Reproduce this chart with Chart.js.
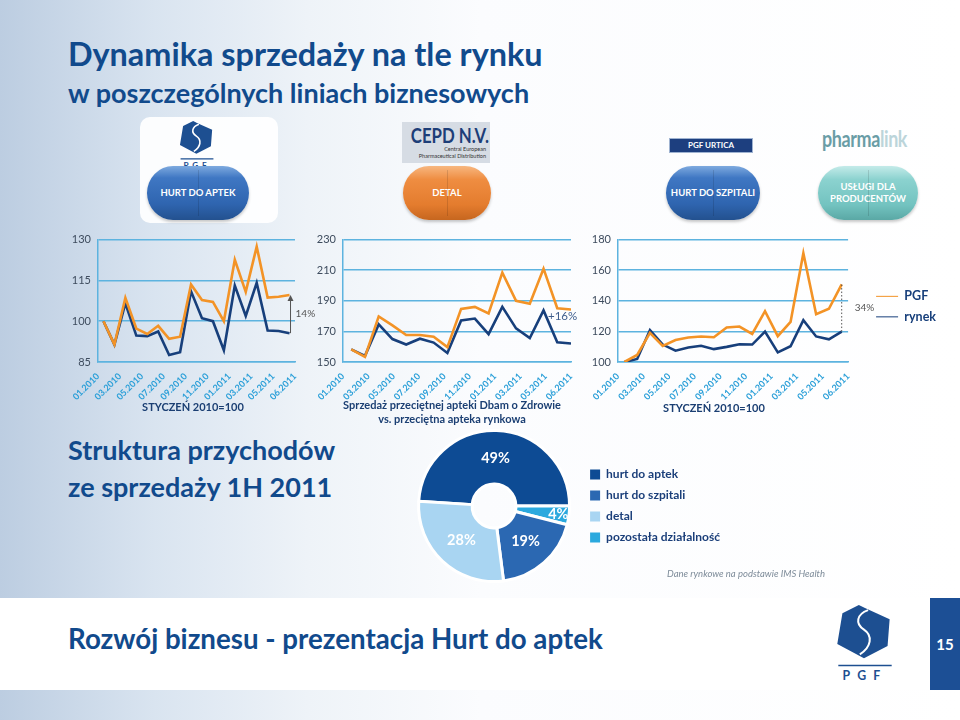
<!DOCTYPE html>
<html lang="pl">
<head>
<meta charset="utf-8">
<script src="https://cdn.jsdelivr.net/npm/chart.js@4.4.1/dist/chart.umd.min.js"></script>
<style>
html, body { margin: 0; padding: 0; }
body {
  width: 960px; height: 720px; position: relative; overflow: hidden;
  font-family: Lato, "Open Sans", sans-serif; color: #114a8c;
  background: linear-gradient(90deg, #bccde1 0%, #d9e4f0 16%, #eef3f8 32%, #fbfcfe 50%, #ffffff 100%);
}
.abs { position: absolute; }
.h1 { left: 68px; top: 38px; font-size: 32.4px; font-weight: 700; line-height: 1; white-space: nowrap; }
.h2 { left: 68px; top: 79px; font-size: 27px; font-weight: 700; line-height: 1; white-space: nowrap; }
.h3 { left: 68px; font-size: 27px; font-weight: 700; line-height: 1; white-space: nowrap; }
.card { left: 140px; top: 117px; width: 138px; height: 106px; border-radius: 10px; background: rgba(255,255,255,0.92); }
.pill {
  top: 166px; height: 54px; border-radius: 26px / 27px; color: #fff;
  font-size: 9.5px; font-weight: 700; display: flex; align-items: center; justify-content: center;
  text-align: center; line-height: 1.25; box-shadow: 0 2px 3px rgba(0,0,0,0.22);
}
.pill::after { content: ''; position: absolute; left: 50%; top: 4px; bottom: 4px; width: 1px; background: rgba(0,0,0,0.12); }
.blue { background: linear-gradient(180deg, #7eaadf 0%, #3f77c3 22%, #2f65b0 70%, #23518f 100%); }
.orange { background: linear-gradient(180deg, #f7b780 0%, #ef8d41 25%, #e47c2e 72%, #c6661f 100%); }
.teal { background: linear-gradient(180deg, #c4ebe9 0%, #8bd2cf 25%, #73c3c0 72%, #5aa8a5 100%); }
.cepd { left: 402px; top: 122px; width: 88px; height: 41px; background: #d6dce4; text-align: center; color: #1d3e78; overflow: hidden; white-space: nowrap; }
.cepd b { display: block; font-size: 21px; line-height: 22px; margin-top: 2px; transform: scaleX(0.8); transform-origin: center; }
.cepd i { display: block; font-style: normal; font-size: 5.5px; line-height: 7px; text-align: right; padding-right: 4px; color: #333; }
.urtica { left: 670px; top: 139px; width: 82px; height: 13px; background: #1d3f7f; color: #fff; font-size: 8px; font-weight: 700; text-align: center; line-height: 13px; box-shadow: 0 0 0 1px #9fb3d1; }
.pharma { left: 822px; top: 127px; font-size: 23px; font-weight: 700; letter-spacing: -0.5px; color: #6a9da6; line-height: 1; transform: scaleX(0.78); transform-origin: left top; }
.pharma span { color: #bcd5da; }
.cap { font-size: 11px; font-weight: 700; color: #1b3f73; text-align: center; white-space: nowrap; line-height: 14px; }
.footer { left: 0; top: 598px; width: 960px; height: 92px; background: #fff; }
.page { left: 930px; top: 598px; width: 30px; height: 92px; background: #1c4f95; color: #fff; font-size: 15px; font-weight: 700; display: flex; align-items: center; justify-content: center; }
.note { left: 667px; top: 568px; font-size: 9.5px; font-style: italic; color: #7d8b99; white-space: nowrap; }
canvas { position: absolute; }
</style>
</head>
<body>
<div class="abs h1">Dynamika sprzedaży na tle rynku</div>
<div class="abs h2">w poszczególnych liniach biznesowych</div>

<div class="abs card"></div>
<svg class="abs" style="left:178px;top:121px" width="38" height="48" viewBox="0 0 60 76">
  <polygon points="8,8 24,0 30,3 54,14 52,40 29,52 3,38" fill="#1d4f91"/>
  <path d="M33 5 C22 9 20 18 29 24 C38 30 36 41 25 48" stroke="#fff" stroke-width="2.5" fill="none"/>
  <line x1="4" y1="60" x2="56" y2="60" stroke="#1d4f91" stroke-width="2"/>
  <text x="30" y="74" text-anchor="middle" font-family="Lato" font-weight="700" font-size="13" fill="#1d4f91" letter-spacing="6">PGF</text>
</svg>
<div class="abs pill blue" style="left:147px;width:102px">HURT DO APTEK</div>

<div class="abs cepd"><b>CEPD N.V.</b><i>Central European</i><i>Pharmaceutical Distribution</i></div>
<div class="abs pill orange" style="left:403px;width:88px">DETAL</div>

<div class="abs urtica">PGF URTICA</div>
<div class="abs pill blue" style="left:666px;width:94px">HURT DO SZPITALI</div>

<div class="abs pharma">pharma<span>link</span></div>
<div class="abs pill teal" style="left:818px;width:100px">USŁUGI DLA<br>PRODUCENTÓW</div>

<canvas id="hurtChart" width="265" height="185" style="left:55px;top:226px"></canvas>
<canvas id="detalChart" width="280" height="185" style="left:300px;top:226px"></canvas>
<canvas id="szpitaleChart" width="375" height="185" style="left:575px;top:226px"></canvas>

<div class="abs cap" style="left:113px;top:400px;width:160px">STYCZEŃ 2010=100</div>
<div class="abs cap" style="left:332px;top:398px;width:240px">Sprzedaż przeciętnej apteki Dbam o Zdrowie<br>vs. przeciętna apteka rynkowa</div>
<div class="abs cap" style="left:634px;top:401px;width:160px">STYCZEŃ 2010=100</div>

<div class="abs h3" style="top:436px">Struktura przychodów</div>
<div class="abs h3" style="top:473px">ze sprzedaży 1H 2011</div>

<canvas id="structChart" width="351" height="175" style="left:400px;top:419px"></canvas>
<div class="abs note">Dane rynkowe na podstawie IMS Health</div>

<div class="abs footer"></div>
<div class="abs h3" style="top:625px;font-size:27.7px">Rozwój biznesu - prezentacja Hurt do aptek</div>
<svg class="abs" style="left:834px;top:605px" width="62" height="78" viewBox="0 0 60 76">
  <polygon points="8,8 24,0 30,3 54,14 52,40 29,52 3,38" fill="#1d4f91"/>
  <path d="M33 5 C22 9 20 18 29 24 C38 30 36 41 25 48" stroke="#fff" stroke-width="2" fill="none"/>
  <line x1="4" y1="59" x2="56" y2="59" stroke="#1d4f91" stroke-width="1.5"/>
  <text x="30" y="73" text-anchor="middle" font-family="Lato" font-weight="700" font-size="12" fill="#1d4f91" letter-spacing="7">PGF</text>
</svg>
<div class="abs page">15</div>

<script>
// osie X: etykiety co dwa miesiące
const tickLabels = ['01.2010', '03.2010', '05.2010', '07.2010', '09.2010', '11.2010', '01.2011', '03.2011', '05.2011', '06.2011'];

// hurt do aptek (styczeń 2010 = 100)
const hurtPGF   = [100, 91.4, 108.6, 97.3, 95.3, 98.3, 93.5, 94.3, 113.5, 107.8, 107.1, 100, 122.6, 110.8, 127.4, 108.7, 109, 109.6];
const hurtRynek = [100, 91.4, 106.6, 94.7, 94.5, 96.2, 87.6, 88.6, 111, 101.1, 100, 89.3, 113.1, 101.9, 114.1, 96.6, 96.4, 95.6];

// detal: apteka Dbam o Zdrowie vs przeciętna apteka rynkowa
const detalDbam  = [158.3, 153.4, 179.8, 173.9, 167.6, 167.6, 166.5, 159.7, 184.7, 186, 181.7, 208.4, 190, 188.1, 211, 185.1, 184.3];
const detalRynek = [158.3, 154, 174.6, 165, 161.4, 165.2, 162.7, 155.9, 177.1, 178.4, 168.2, 186, 172, 165.7, 183.7, 162.9, 162.1];

// hurt do szpitali (styczeń 2010 = 100)
const szpitalePGF   = [100, 104.6, 119, 110.5, 114.4, 116, 116.7, 116.2, 122.6, 123.2, 118.4, 133.2, 116.9, 126.2, 171.1, 131.2, 134.8, 150.7];
const szpitaleRynek = [100, 102, 120.9, 111.4, 107.4, 109.5, 110.6, 108.4, 109.9, 111.6, 111.4, 119.9, 106.3, 110.3, 127.3, 116.7, 114.8, 119.9];

// struktura przychodów 1H 2011 (kolejność zgodnie z ruchem wskazówek zegara)
const segmentLabels = ['hurt do aptek', 'pozostała działalność', 'hurt do szpitali', 'detal'];
const segmentValues = [49, 4, 19, 28];
const legendOrder = ['hurt do aptek', 'hurt do szpitali', 'detal', 'pozostała działalność'];

const ORANGE = '#f39326';
const NAVY = '#173f7b';
const GRID = '#5db3df';
const CYAN = '#2a9fd8';
const TICK = '#3e4c5e';
const FONT = 'Lato, "Open Sans", sans-serif';

Chart.defaults.font.family = FONT;

// napis z różnicą przy ostatnim punkcie
const gapNote = {
  id: 'gapNote',
  afterDatasetsDraw(chart, args, opts) {
    if (!opts || !opts.text) return;
    const top = chart.getDatasetMeta(0).data;
    const base = chart.getDatasetMeta(1).data;
    const a = top[top.length - 1];
    const b = base[base.length - 1];
    const ctx = chart.ctx;
    const x = a.x + (opts.lineDx || 0);
    ctx.save();
    ctx.strokeStyle = opts.color;
    ctx.fillStyle = opts.color;
    ctx.lineWidth = 1;
    if (opts.line === 'arrow') {
      ctx.beginPath(); ctx.moveTo(x, b.y); ctx.lineTo(x, a.y + 4); ctx.stroke();
      ctx.beginPath(); ctx.moveTo(x, a.y); ctx.lineTo(x - 3, a.y + 6); ctx.lineTo(x + 3, a.y + 6); ctx.closePath(); ctx.fill();
    } else if (opts.line === 'dotted') {
      ctx.setLineDash([1.5, 2]);
      ctx.beginPath(); ctx.moveTo(x, b.y); ctx.lineTo(x, a.y); ctx.stroke();
      ctx.setLineDash([]);
    }
    ctx.font = opts.font;
    ctx.textAlign = opts.align || 'left';
    ctx.textBaseline = 'middle';
    ctx.fillText(opts.text, x + (opts.dx || 0), (a.y + b.y) / 2 + (opts.dy || 0));
    ctx.restore();
  }
};

function lineChart(id, cfg) {
  const pts = (arr) => arr.map((v, i) => ({ x: i + cfg.shift, y: v }));
  return new Chart(document.getElementById(id), {
    type: 'line',
    data: {
      datasets: [
        { label: 'PGF', data: pts(cfg.top), borderColor: ORANGE, backgroundColor: ORANGE },
        { label: 'rynek', data: pts(cfg.base), borderColor: NAVY, backgroundColor: NAVY }
      ]
    },
    options: {
      responsive: false,
      animation: false,
      layout: { padding: cfg.padding },
      elements: { point: { radius: 0 }, line: { borderWidth: 2.6, tension: 0 } },
      plugins: {
        legend: cfg.legend || { display: false },
        tooltip: { enabled: false },
        gapNote: cfg.note
      },
      scales: {
        x: {
          type: 'linear', min: cfg.xMin, max: cfg.xMax,
          afterBuildTicks: (s) => {
            s.ticks = tickLabels.map((_, k) => ({ value: cfg.xMin + k * (cfg.xMax - cfg.xMin) / (tickLabels.length - 1) }));
          },
          afterFit: (s) => { s.height = 49; },
          ticks: {
            autoSkip: false, minRotation: 45, maxRotation: 45, padding: 1,
            color: CYAN, font: { size: 9, weight: 'bold' },
            callback: (v, i) => tickLabels[i]
          },
          grid: { display: false },
          border: { color: GRID, width: 1.5 }
        },
        y: {
          min: cfg.yMin, max: cfg.yMax,
          afterFit: (s) => { s.width = 43; },
          ticks: { stepSize: cfg.step, color: TICK, font: { size: 11 }, padding: 7 },
          grid: { color: GRID, lineWidth: 1.5, tickLength: 0 },
          border: { color: GRID, width: 1.5 }
        },
        ...(cfg.extraScales || {})
      }
    },
    plugins: [gapNote]
  });
}

lineChart('hurtChart', {
  top: hurtPGF, base: hurtRynek, shift: 0.5, xMin: 0, xMax: 18,
  yMin: 85, yMax: 130, step: 15,
  padding: { top: 10, right: 25, bottom: 0, left: 0 },
  note: { text: '14%', line: 'arrow', lineDx: 1, dx: 5, color: '#555', font: '10px ' + FONT }
});

lineChart('detalChart', {
  top: detalDbam, base: detalRynek, shift: 0.6, xMin: 0, xMax: 16.6,
  yMin: 150, yMax: 230, step: 20,
  padding: { top: 10, right: 9, bottom: 0, left: 0 },
  note: { text: '+16%', align: 'left', dx: -23, dy: -10, color: '#3d5c8c', font: '11.5px ' + FONT }
});

lineChart('szpitaleChart', {
  top: szpitalePGF, base: szpitaleRynek, shift: 0.5, xMin: 0, xMax: 18,
  yMin: 100, yMax: 180, step: 20,
  padding: { top: 10, right: 4, bottom: 0, left: 0 },
  note: { text: '34%', line: 'dotted', dx: 13, color: '#555', font: '10px ' + FONT },
  legend: {
    position: 'right', align: 'center', fullSize: false, maxWidth: 120,
    title: { display: true, text: '', font: { size: 8 }, padding: { top: 1, bottom: 1 } },
    labels: {
      usePointStyle: true, pointStyle: 'line', pointStyleWidth: 22, padding: 8,
      color: NAVY, font: { size: 12.5, weight: 'bold' }
    }
  },
  extraScales: {
    gap: {
      type: 'linear', position: 'right', display: true,
      afterFit: (s) => { s.width = 20; },
      ticks: { display: false }, grid: { display: false }, border: { display: false }
    }
  }
});

// etykiety procentowe na wycinkach
const sliceLabels = {
  id: 'sliceLabels',
  afterDatasetsDraw(chart) {
    const ctx = chart.ctx;
    ctx.save();
    ctx.fillStyle = '#fff';
    ctx.font = 'bold 14.5px ' + FONT;
    ctx.textAlign = 'center';
    ctx.textBaseline = 'middle';
    chart.getDatasetMeta(0).data.forEach((arc, i) => {
      const p = arc.getProps(['x', 'y', 'startAngle', 'endAngle', 'innerRadius', 'outerRadius']);
      const mid = (p.startAngle + p.endAngle) / 2;
      const r = p.innerRadius + (p.outerRadius - p.innerRadius) * (segmentValues[i] < 10 ? 0.8 : 0.48);
      ctx.fillText(segmentValues[i] + '%', p.x + Math.cos(mid) * r, p.y + Math.sin(mid) * r);
    });
    ctx.restore();
  }
};

new Chart(document.getElementById('structChart'), {
  type: 'doughnut',
  data: {
    labels: segmentLabels,
    datasets: [{
      data: segmentValues,
      backgroundColor: ['#0d4b94', '#2ba9de', '#2b68b2', '#a9d5f2'],
      borderColor: '#ffffff',
      borderWidth: 3
    }]
  },
  options: {
    responsive: false,
    animation: false,
    rotation: -86.4,
    cutout: '29%',
    layout: { padding: { top: 10, bottom: 11, left: 7, right: 21 } },
    plugins: {
      tooltip: { enabled: false },
      legend: {
        position: 'right', align: 'center',
        labels: {
          boxWidth: 10, boxHeight: 10, padding: 9, color: '#1b3f7a',
          font: { size: 12, weight: 'bold' },
          generateLabels: (chart) => Chart.overrides.doughnut.plugins.legend.labels.generateLabels(chart)
            .map((l) => ({ ...l, lineWidth: 0 })),
          sort: (a, b) => legendOrder.indexOf(a.text) - legendOrder.indexOf(b.text)
        }
      }
    }
  },
  plugins: [sliceLabels]
});
</script>
</body>
</html>
